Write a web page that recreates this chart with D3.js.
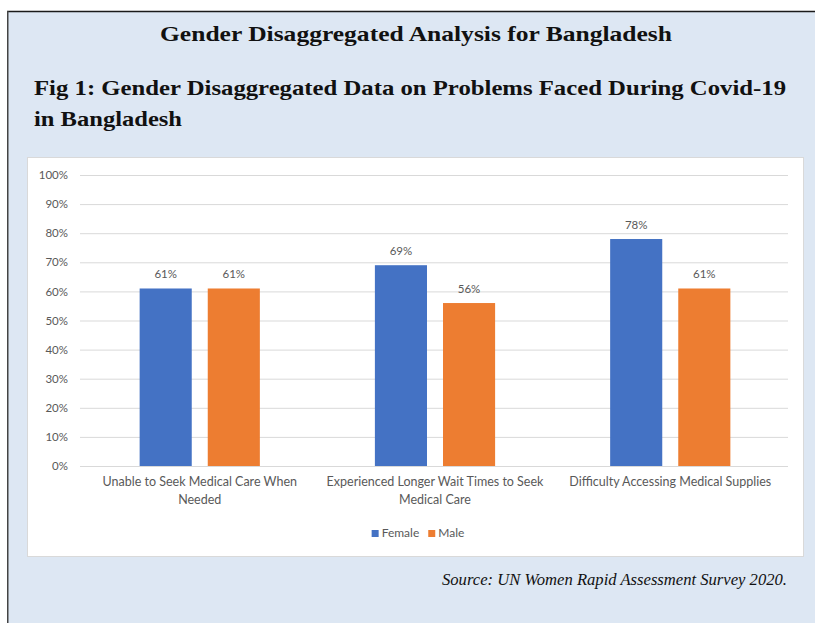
<!DOCTYPE html>
<html>
<head>
<meta charset="utf-8">
<script src="https://cdn.jsdelivr.net/npm/d3@7"></script>
<style>
  html, body { margin: 0; padding: 0; background: #ffffff; }
  svg { display: block; }
</style>
</head>
<body>
<svg id="chart" width="815" height="623"></svg>
<script>
// Problems faced during Covid-19, by gender (share of respondents)
const categories = [
  ["Unable to Seek Medical Care When", "Needed"],
  ["Experienced Longer Wait Times to Seek", "Medical Care"],
  ["Difficulty Accessing Medical Supplies"]
];
const seriesNames = ["Female", "Male"];
const female = [0.61, 0.69, 0.78];
const male = [0.61, 0.56, 0.61];
const yTicks = [0, 0.1, 0.2, 0.3, 0.4, 0.5, 0.6, 0.7, 0.8, 0.9, 1.0];
const colors = { Female: "#4472C4", Male: "#ED7D31" };

const W = 815, H = 623;
const svg = d3.select("#chart");

// Page panel
svg.append("rect").attr("x", 8).attr("y", 12).attr("width", W - 8).attr("height", H - 12)
  .attr("fill", "#dde7f3");
svg.append("line").attr("x1", 7).attr("x2", W).attr("y1", 11.5).attr("y2", 11.5)
  .attr("stroke", "#1a1a1a").attr("stroke-width", 1.5);
svg.append("line").attr("x1", 7.75).attr("x2", 7.75).attr("y1", 11).attr("y2", H)
  .attr("stroke", "#444").attr("stroke-width", 1.5);

// Headings, set to the width of the book face they were typeset in
const serif = "'Liberation Serif', 'DejaVu Serif', serif";
function heading(x, yPos, anchor, str, size, len, italic) {
  return svg.append("text").attr("x", x).attr("y", yPos).attr("text-anchor", anchor)
    .attr("font-family", serif).attr("font-weight", italic ? "normal" : "bold")
    .attr("font-style", italic ? "italic" : "normal").attr("font-size", size)
    .attr("fill", "#111").attr("textLength", len).attr("lengthAdjust", "spacingAndGlyphs")
    .text(str);
}
heading(416, 41, "middle", "Gender Disaggregated Analysis for Bangladesh", 21, 512);
heading(34, 95, "start", "Fig 1: Gender Disaggregated Data on Problems Faced During Covid-19", 21, 752);
heading(34, 126, "start", "in Bangladesh", 21, 148);
heading(787, 585, "end", "Source: UN Women Rapid Assessment Survey 2020.", 17.5, 345, true);

// Chart area
svg.append("rect").attr("x", 27.5).attr("y", 157.5).attr("width", 776).attr("height", 399)
  .attr("fill", "#ffffff").attr("stroke", "#d9d9d9");

const sans = "Lato, 'Liberation Sans', sans-serif";
const textGrey = "#595959";

const y = d3.scaleLinear().domain([0, 1]).range([466, 175]);
const x0 = d3.scaleBand().domain(d3.range(categories.length)).range([82, 788])
  .paddingInner(0.489).paddingOuter(0.245);
const x1 = d3.scaleBand().domain(seriesNames).range([0, x0.bandwidth()]).paddingInner(0.235);

// Gridlines and y-axis labels
const yAxis = d3.axisLeft(y).tickValues(yTicks).tickFormat(d3.format(".0%"))
  .tickSize(-(788 - 80)).tickPadding(12);
const gy = svg.append("g").attr("transform", "translate(80,0)").call(yAxis);
gy.select(".domain").remove();
gy.selectAll(".tick line").attr("stroke", "#d9d9d9").attr("stroke-width", 1);
gy.selectAll(".tick text").attr("font-family", sans).attr("font-size", 11.5)
  .attr("fill", textGrey);

// Bars
const rows = categories.map((c, i) => ({ i, values: [
  { key: "Female", v: female[i] }, { key: "Male", v: male[i] }] }));
const groups = svg.append("g").selectAll("g").data(rows).join("g")
  .attr("transform", d => `translate(${x0(d.i)},0)`);
groups.selectAll("rect").data(d => d.values).join("rect")
  .attr("x", d => x1(d.key)).attr("width", x1.bandwidth())
  .attr("y", d => y(d.v)).attr("height", d => y(0) - y(d.v))
  .attr("fill", d => colors[d.key]);
groups.selectAll("text.val").data(d => d.values).join("text").attr("class", "val")
  .attr("x", d => x1(d.key) + x1.bandwidth() / 2).attr("y", d => y(d.v) - 10)
  .attr("text-anchor", "middle").attr("font-family", sans).attr("font-size", 11.5)
  .attr("fill", textGrey).text(d => d3.format(".0%")(d.v));

// Category labels
const xAxis = d3.axisBottom(x0).tickSize(0).tickFormat("");
const gx = svg.append("g").attr("transform", `translate(0,${y(0)})`).call(xAxis);
gx.select(".domain").attr("stroke", "#d9d9d9").attr("d", `M80,0.5H788`);
gx.selectAll(".tick").each(function(i) {
  const t = d3.select(this).append("text").attr("text-anchor", "middle")
    .attr("font-family", sans).attr("font-size", 12.5).attr("fill", textGrey);
  categories[i].forEach((line, k) => {
    t.append("tspan").attr("x", 0).attr("y", 20 + k * 18).text(line);
  });
});

// Legend
const legend = svg.append("g");
const items = legend.selectAll("g").data(seriesNames).join("g");
items.append("rect").attr("width", 7).attr("height", 7).attr("y", -7)
  .attr("fill", d => colors[d]);
items.append("text").attr("x", 10).attr("y", 0).attr("font-family", sans)
  .attr("font-size", 12).attr("fill", textGrey).text(d => d);
let lx = 0;
items.each(function() {
  d3.select(this).attr("transform", `translate(${lx},0)`);
  lx += this.getBBox().width + 9;
});
const lw = lx - 9;
legend.attr("transform", `translate(${418 - lw / 2},537)`);
</script>
</body>
</html>
